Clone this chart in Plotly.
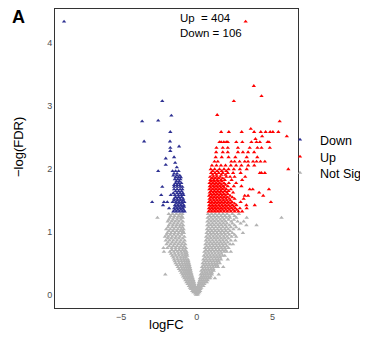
import plotly.graph_objects as go

# ---------------- data ----------------
up_count = 404
down_count = 106

x_ticks = [-5, 0, 5]
y_ticks = [0, 1, 2, 3, 4]

# Not significant genes: rows of (-log(FDR), [logFC values])
notsig_rows = [
    (1.28, [-1.85, -1.6, -1.35, -1.12, -0.95, 0.74, 0.98, 1.22, 1.47, 1.73, 2.0, 2.35, 2.78]),
    (1.25, [-1.72, -1.47, -1.2, -1.0, 0.85, 1.1, 1.34, 1.6, 1.86, 2.15, 2.5]),
    (1.22, [-2.6, -1.78, -1.52, -1.28, -1.06, -0.93, 0.72, 0.95, 1.2, 1.44, 1.7, 1.96, 2.2, 2.62, 3.3, 5.6]),
    (1.19, [-1.85, -1.58, -1.3, -1.05, 0.82, 1.06, 1.3, 1.55, 1.8, 2.1, 2.45]),
    (1.16, [-1.92, -1.66, -1.42, -1.18, -0.92, 0.7, 0.94, 1.17, 1.41, 1.66, 1.9, 2.28, 2.7, 3.1]),
    (1.13, [-1.75, -1.5, -1.25, -1.0, 0.8, 1.04, 1.28, 1.52, 1.76, 2.0, 2.35, 2.9]),
    (1.10, [-1.85, -1.58, -1.33, -1.1, -0.9, 0.69, 0.92, 1.15, 1.4, 1.63, 1.88, 2.15, 2.5, 3.28, 3.95]),
    (1.07, [-1.9, -1.62, -1.38, -1.13, -0.95, 0.78, 1.02, 1.25, 1.48, 1.72, 1.96, 2.25, 2.6]),
    (1.04, [-2.02, -1.75, -1.5, -1.25, -1.02, -0.87, 0.67, 0.9, 1.13, 1.37, 1.6, 1.85, 2.08, 2.42, 2.8]),
    (1.01, [-1.85, -1.58, -1.32, -1.08, -0.92, 0.76, 0.99, 1.22, 1.45, 1.68, 1.92, 2.2]),
    (0.98, [-1.95, -1.7, -1.45, -1.2, -0.98, -0.85, 0.65, 0.88, 1.1, 1.33, 1.57, 1.8, 2.05, 2.35, 3.05]),
    (0.95, [-2.0, -1.75, -1.5, -1.25, -1.0, 0.74, 0.96, 1.19, 1.41, 1.64, 1.88, 2.15, 2.5]),
    (0.92, [-2.1, -1.88, -1.62, -1.37, -1.12, -0.82, 0.62, 0.85, 1.08, 1.3, 1.52, 1.77, 2.0, 2.3, 2.6]),
    (0.89, [-1.92, -1.68, -1.42, -1.18, -0.93, 0.71, 0.93, 1.16, 1.38, 1.61, 1.84, 2.1]),
    (0.86, [-2.05, -1.8, -1.55, -1.3, -1.05, -0.8, 0.6, 0.82, 1.04, 1.27, 1.5, 1.72, 1.95, 2.25, 2.55]),
    (0.83, [-1.9, -1.62, -1.37, -1.12, -0.88, 0.68, 0.9, 1.13, 1.35, 1.57, 1.8, 2.05]),
    (0.80, [-2.0, -1.72, -1.47, -1.22, -0.98, -0.76, 0.57, 0.8, 1.02, 1.24, 1.46, 1.68, 1.9, 2.2, 2.39]),
    (0.77, [-1.82, -1.55, -1.3, -1.05, -0.83, 0.65, 0.87, 1.09, 1.31, 1.52, 1.74, 1.98]),
    (0.74, [-2.2, -1.95, -1.66, -1.4, -1.15, -0.92, -0.72, 0.54, 0.76, 0.98, 1.2, 1.42, 1.63, 1.85, 2.1]),
    (0.71, [-1.65, -1.4, -1.16, -0.94, -0.76, 0.61, 0.83, 1.04, 1.26, 1.48, 1.7, 1.9]),
    (0.68, [-2.17, -1.78, -1.52, -1.28, -1.05, -0.84, -0.68, 0.5, 0.72, 0.93, 1.15, 1.37, 1.58, 1.8, 1.98, 2.25]),
    (0.65, [-1.7, -1.46, -1.22, -1.0, -0.8, -0.66, 0.58, 0.79, 1.0, 1.21, 1.43, 1.63]),
    (0.62, [-1.62, -1.4, -1.18, -0.96, -0.78, -0.63, 0.47, 0.68, 0.89, 1.1, 1.3, 1.5, 1.7, 1.85]),
    (0.59, [-1.55, -1.3, -1.07, -0.87, -0.7, 0.55, 0.75, 0.95, 1.16, 1.36, 1.55]),
    (0.56, [-1.5, -1.28, -1.07, -0.88, -0.72, -0.58, 0.43, 0.63, 0.84, 1.04, 1.24, 1.42, 1.6, 2.05]),
    (0.53, [-1.45, -1.22, -1.02, -0.84, -0.68, -0.55, 0.5, 0.7, 0.9, 1.1, 1.3, 1.45]),
    (0.50, [-1.4, -1.18, -0.98, -0.8, -0.65, -0.52, 0.39, 0.58, 0.78, 0.98, 1.17, 1.35, 1.52]),
    (0.47, [-1.32, -1.12, -0.94, -0.76, -0.62, -0.49, 0.45, 0.64, 0.83, 1.02, 1.2, 1.35]),
    (0.44, [-1.25, -1.05, -0.88, -0.72, -0.58, -0.46, 0.35, 0.53, 0.72, 0.9, 1.08, 1.25, 1.4, 1.75]),
    (0.41, [-1.18, -0.99, -0.83, -0.68, -0.55, -0.43, 0.4, 0.58, 0.76, 0.94, 1.1]),
    (0.38, [-1.1, -0.93, -0.78, -0.64, -0.52, -0.4, 0.3, 0.47, 0.64, 0.81, 0.98, 1.12]),
    (0.35, [-1.02, -0.86, -0.72, -0.59, -0.47, -0.37, 0.35, 0.52, 0.68, 0.85, 1.0]),
    (0.32, [-2.08, -0.95, -0.8, -0.67, -0.55, -0.44, -0.34, 0.26, 0.41, 0.56, 0.72, 0.88, 1.0, 1.45]),
    (0.29, [-0.9, -0.75, -0.62, -0.5, -0.4, -0.3, 0.3, 0.45, 0.6, 0.75, 0.92]),
    (0.26, [-0.82, -0.68, -0.56, -0.45, -0.35, -0.27, 0.21, 0.35, 0.49, 0.63, 0.78, 0.88, 1.2]),
    (0.23, [-0.75, -0.62, -0.5, -0.4, -0.3, -0.22, 0.2, 0.33, 0.46, 0.6, 0.72]),
    (0.20, [-0.68, -0.56, -0.45, -0.34, -0.25, -0.18, 0.15, 0.28, 0.41, 0.54, 0.66]),
    (0.17, [-0.6, -0.47, -0.36, -0.26, -0.16, 0.13, 0.25, 0.37, 0.5]),
    (0.14, [-0.52, -0.4, -0.3, -0.2, -0.12, 0.08, 0.2, 0.32, 0.44]),
    (0.11, [-0.45, -0.33, -0.22, -0.12, -0.02, 0.08, 0.18, 0.3]),
    (0.09, [-0.38, -0.27, -0.17, -0.07, 0.03, 0.13, 0.24]),
    (0.06, [-0.3, -0.18, -0.08, 0.02, 0.12, 0.22]),
    (0.04, [-0.22, -0.12, -0.02, 0.08, 0.17]),
    (0.02, [-0.1, 0.0, 0.1]),
    (0.00, [-0.05, 0.05]),
]

# Up-regulated genes
up_rows = [
    (1.32, [0.78, 0.98, 1.18, 1.38, 1.58, 1.8, 2.02, 2.25, 2.5, 2.75, 3.0]),
    (1.345, [0.88, 1.08, 1.28, 1.5, 1.7, 1.92, 2.15, 2.4, 2.65]),
    (1.37, [0.8, 1.0, 1.2, 1.4, 1.62, 1.84, 2.06, 2.3, 2.55, 2.85, 3.3]),
    (1.395, [0.9, 1.1, 1.3, 1.52, 1.74, 1.96, 2.2, 2.45]),
    (1.42, [0.82, 1.03, 1.24, 1.45, 1.66, 1.88, 2.1, 2.35, 2.62, 3.28, 3.83]),
    (1.445, [0.92, 1.13, 1.34, 1.55, 1.77, 2.0, 2.22, 2.5]),
    (1.47, [0.8, 1.0, 1.22, 1.43, 1.64, 1.86, 2.08, 2.33, 2.9, 4.9]),
    (1.495, [0.9, 1.12, 1.33, 1.54, 1.76, 1.98, 2.22]),
    (1.52, [0.84, 1.05, 1.26, 1.47, 1.7, 1.92, 2.15, 2.5, 3.1]),
    (1.545, [0.94, 1.15, 1.36, 1.58, 1.8, 2.02, 2.35]),
    (1.57, [0.82, 1.03, 1.24, 1.46, 1.68, 1.9, 2.2, 3.17, 3.39, 4.39]),
    (1.595, [0.92, 1.14, 1.35, 1.57, 1.8, 2.05]),
    (1.62, [0.85, 1.07, 1.28, 1.5, 1.72, 1.98, 2.4, 4.12]),
    (1.645, [0.95, 1.17, 1.38, 1.6, 1.85, 2.1]),
    (1.67, [0.83, 1.05, 1.27, 1.49, 1.7, 1.95, 2.25, 3.5, 3.7, 4.77]),
    (1.695, [0.93, 1.16, 1.38, 1.6, 1.82]),
    (1.72, [0.86, 1.08, 1.3, 1.52, 1.75, 2.05, 2.45, 2.95]),
    (1.745, [0.96, 1.18, 1.4, 1.63, 1.9]),
    (1.77, [0.84, 1.06, 1.28, 1.5, 1.8, 2.12, 2.6]),
    (1.795, [0.95, 1.17, 1.4, 1.65]),
    (1.82, [0.9, 1.12, 1.35, 1.6, 1.85, 2.3, 3.0]),
    (1.845, [1.0, 1.22, 1.45, 1.72]),
    (1.87, [0.88, 1.1, 1.32, 1.55, 1.95, 2.2, 2.5, 3.2]),
    (1.90, [1.05, 1.3, 1.62, 1.9]),
    (1.93, [0.95, 1.2, 1.45, 1.72, 2.05, 2.4, 2.9, 4.17, 4.28, 4.5]),
    (1.96, [1.05, 1.35, 1.65, 1.95]),
    (1.99, [0.92, 1.18, 1.5, 1.8, 2.1, 2.45, 2.85, 3.3, 6.05]),
    (2.05, [1.0, 1.3, 1.6, 1.9, 2.25, 2.6, 2.95, 3.4, 3.8]),
    (2.11, [1.17, 1.39, 2.28, 2.5, 2.83, 3.17, 3.39, 3.72, 3.95, 4.21, 4.5]),
    (2.18, [1.25, 1.65, 2.1, 2.55, 3.3, 4.0]),
    (2.26, [1.28, 1.72, 2.05, 2.72, 3.05, 3.39, 3.79]),
    (2.33, [1.3, 1.72, 2.05, 2.72, 3.5, 4.01, 4.28, 4.83]),
    (2.42, [1.5, 1.61, 1.79, 1.95, 2.05, 2.61, 3.01, 3.61, 3.95, 4.17, 4.68, 4.77]),
    (2.47, [3.88]),
    (2.51, [4.32, 5.95]),
    (2.58, [1.61, 2.12, 2.97, 3.79, 4.23, 4.55, 4.85, 5.03, 5.39]),
    (2.63, [3.57]),
    (2.75, [5.48]),
    (2.85, [1.35]),
    (3.07, [2.45]),
    (3.15, [4.28]),
    (3.31, [3.77]),
    (4.33, [3.23]),
]

# Down-regulated genes
down_rows = [
    (1.32, [-1.55, -1.35, -1.15, -0.95, -0.8]),
    (1.345, [-1.45, -1.25, -1.05, -0.87]),
    (1.37, [-1.83, -1.5, -1.3, -1.1, -0.92]),
    (1.395, [-1.4, -1.2, -1.0, -0.84]),
    (1.42, [-2.23, -1.45, -1.25, -1.05, -0.86]),
    (1.445, [-1.35, -1.15, -0.95]),
    (1.47, [-2.95, -2.17, -1.95, -1.6, -1.38, -1.18, -0.98, -0.82]),
    (1.495, [-1.5, -1.28, -1.08, -0.9]),
    (1.52, [-1.5, -1.3, -1.1, -0.9]),
    (1.55, [-1.4, -1.2, -1.0]),
    (1.58, [-2.35, -1.72, -1.45, -1.22, -1.02, -0.88]),
    (1.61, [-1.55, -1.3, -1.1, -0.92]),
    (1.64, [-1.4, -1.2, -1.0]),
    (1.67, [-1.5, -1.3, -1.1, -0.95]),
    (1.71, [-2.28, -1.5, -1.3, -1.1, -0.95]),
    (1.74, [-1.5, -1.3, -1.12]),
    (1.77, [-1.4, -1.2, -1.02]),
    (1.80, [-1.35, -1.15]),
    (1.83, [-1.45, -1.25, -1.08]),
    (1.86, [-1.4, -1.2, -1.05]),
    (1.89, [-1.55, -1.32, -1.12]),
    (1.92, [-1.5, -1.3]),
    (1.96, [-2.55, -1.6, -1.4, -1.2]),
    (2.02, [-1.32]),
    (2.06, [-2.05]),
    (2.09, [-1.43]),
    (2.16, [-2.05]),
    (2.18, [-1.5]),
    (2.28, [-1.75]),
    (2.33, [-1.75]),
    (2.35, [-1.17]),
    (2.43, [-3.48, -1.77]),
    (2.58, [-1.75]),
    (2.75, [-3.61]),
    (2.76, [-2.55]),
    (2.84, [-1.68]),
    (3.07, [-2.28]),
    (4.33, [-8.77]),
]


def flatten(rows):
    xs, ys = [], []
    for yv, xlist in rows:
        for xv in xlist:
            xs.append(xv)
            ys.append(yv)
    return xs, ys


ns_x, ns_y = flatten(notsig_rows)
up_x, up_y = flatten(up_rows)
dn_x, dn_y = flatten(down_rows)

# ---------------- figure ----------------
GREY = "#B3B3B3"
RED = "#FF0000"
NAVY = "#2E3192"
FONT = "Liberation Sans, Arial, sans-serif"

# the page body keeps its default 8px margin, so the figure fills the rest of the window
OFF = 8
W, H = 368 - OFF, 345 - OFF
L, R, T, B = 55 - OFF, 368 - 298, 9 - OFF, 345 - 308
PW, PH = W - L - R, H - T - B


def px(page_x):
    return (page_x - OFF - L) / PW


def py(page_y):
    return (H - B - (page_y - OFF)) / PH


fig = go.Figure()
fig.add_trace(go.Scatter(
    x=ns_x, y=ns_y, mode="markers", name="Not Sig", legend="legend3",
    marker=dict(symbol="triangle-up", size=4, color=GREY, line=dict(width=0)),
))
fig.add_trace(go.Scatter(
    x=dn_x, y=dn_y, mode="markers", name="Down", legend="legend",
    marker=dict(symbol="triangle-up", size=3.8, color=NAVY, line=dict(width=0)),
))
fig.add_trace(go.Scatter(
    x=up_x, y=up_y, mode="markers", name="Up", legend="legend2",
    marker=dict(symbol="triangle-up", size=3.8, color=RED, line=dict(width=0)),
))

axis_common = dict(
    showgrid=False, zeroline=False, showline=True, mirror=True,
    linecolor="#333333", linewidth=1, ticks="",
    tickfont=dict(family=FONT, size=9, color="#4D4D4D"),
)


def legend_at(page_y):
    return dict(x=px(280), xanchor="left", y=py(page_y), yanchor="middle",
                font=dict(family=FONT, size=12.5, color="black"),
                itemwidth=30, bgcolor="rgba(0,0,0,0)", borderwidth=0)


fig.update_layout(
    width=W, height=H,
    margin=dict(l=L, r=R, t=T, b=B, autoexpand=False),
    paper_bgcolor="white", plot_bgcolor="white",
    font=dict(family=FONT, color="black"),
    xaxis=dict(range=[-9.37, 6.69], tickvals=x_ticks,
               ticktext=["\u22125", "0", "5"], **axis_common),
    yaxis=dict(range=[-0.21, 4.53], tickvals=y_ticks,
               ticktext=[str(t) for t in y_ticks], **axis_common),
    legend=legend_at(140),
    legend2=legend_at(157),
    legend3=legend_at(173),
    showlegend=True,
)

fig.add_annotation(xref="paper", yref="paper", x=px(178), y=py(18),
                   xanchor="left", yanchor="middle", showarrow=False,
                   text=f"Up  = {up_count}", font=dict(family=FONT, size=11.5, color="black"))
fig.add_annotation(xref="paper", yref="paper", x=px(178), y=py(33),
                   xanchor="left", yanchor="middle", showarrow=False,
                   text=f"Down = {down_count}", font=dict(family=FONT, size=11.5, color="black"))
# axis titles
fig.add_annotation(xref="paper", yref="paper", x=px(166), y=py(324),
                   xanchor="center", yanchor="middle", showarrow=False,
                   text="logFC", font=dict(family=FONT, size=13, color="black"))
fig.add_annotation(xref="paper", yref="paper", x=px(18), y=py(147),
                   xanchor="center", yanchor="middle", showarrow=False, textangle=-90,
                   text="\u2212log(FDR)", font=dict(family=FONT, size=13, color="black"))
# panel letters
fig.add_annotation(xref="paper", yref="paper", x=px(10), y=py(17),
                   xanchor="left", yanchor="middle", showarrow=False,
                   text="<b>A</b>", font=dict(family=FONT, size=18, color="black"))
fig.add_annotation(xref="paper", yref="paper", x=px(7), y=py(341),
                   xanchor="left", yanchor="top", showarrow=False,
                   text="<b>B</b>", font=dict(family=FONT, size=18, color="black"))

fig.write_html("out.html")
